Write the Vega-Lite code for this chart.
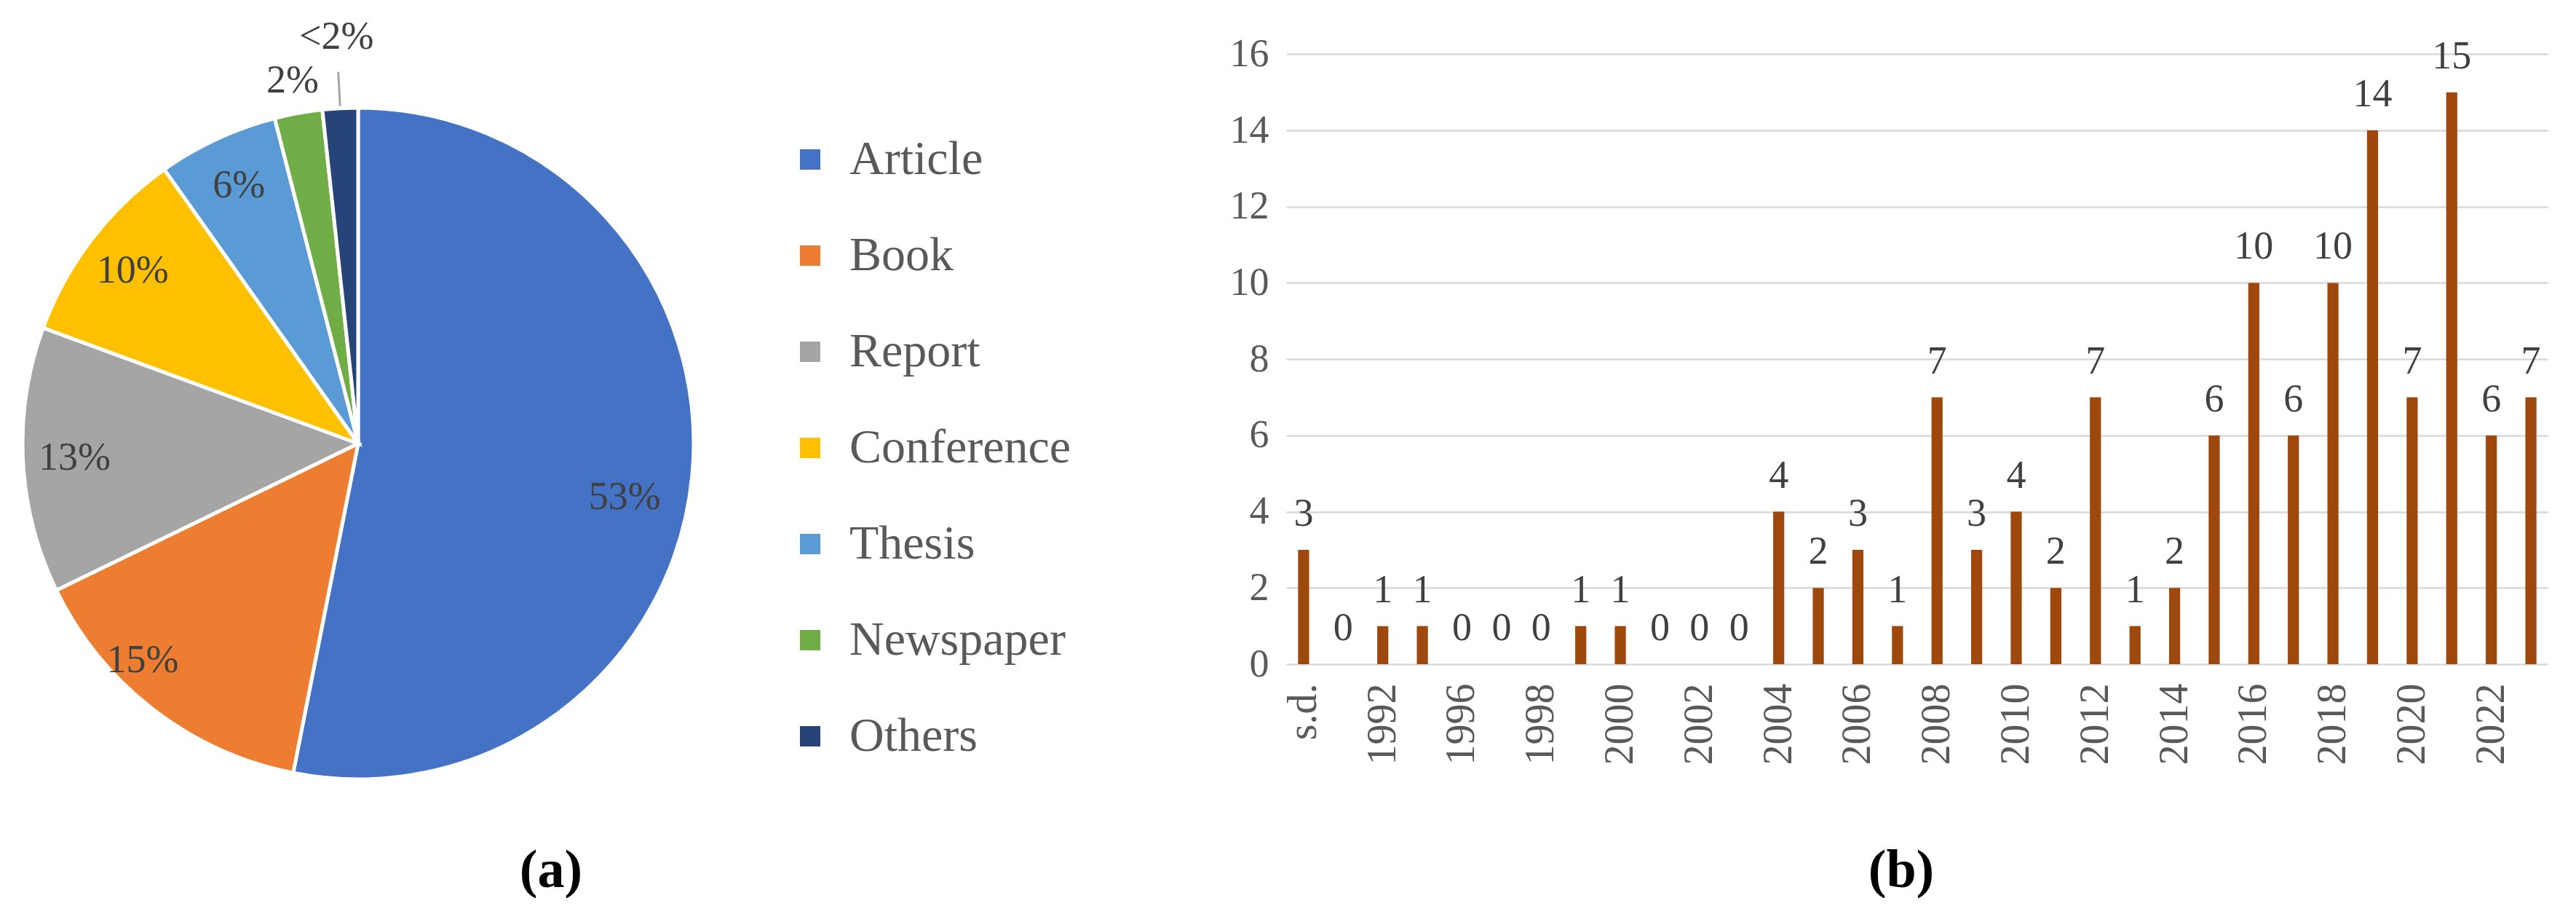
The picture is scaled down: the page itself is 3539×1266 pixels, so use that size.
{
  "$schema": "https://vega.github.io/schema/vega-lite/v6.json",
  "padding": 0,
  "background": "white",
  "bounds": "flush",
  "spacing": 783,
  "config": {
    "view": {"stroke": null},
    "font": "Liberation Serif"
  },
  "datasets": {
    "pie": [
      {"i": 1, "type": "Article", "pct": 53.1, "label": "53%"},
      {"i": 2, "type": "Book", "pct": 14.7, "label": "15%"},
      {"i": 3, "type": "Report", "pct": 12.8, "label": "13%"},
      {"i": 4, "type": "Conference", "pct": 9.6, "label": "10%"},
      {"i": 5, "type": "Thesis", "pct": 5.8, "label": "6%"},
      {"i": 6, "type": "Newspaper", "pct": 2.3, "label": "2%"},
      {"i": 7, "type": "Others", "pct": 1.7, "label": "<2%"}
    ],
    "bars": [
      {"year": "s.d.", "n": 3}, {"year": "1991", "n": 0}, {"year": "1992", "n": 1}, {"year": "1994", "n": 1},
      {"year": "1996", "n": 0}, {"year": "1997", "n": 0}, {"year": "1998", "n": 0}, {"year": "1999", "n": 1},
      {"year": "2000", "n": 1}, {"year": "2001", "n": 0}, {"year": "2002", "n": 0}, {"year": "2003", "n": 0},
      {"year": "2004", "n": 4}, {"year": "2005", "n": 2}, {"year": "2006", "n": 3}, {"year": "2007", "n": 1},
      {"year": "2008", "n": 7}, {"year": "2009", "n": 3}, {"year": "2010", "n": 4}, {"year": "2011", "n": 2},
      {"year": "2012", "n": 7}, {"year": "2013", "n": 1}, {"year": "2014", "n": 2}, {"year": "2015", "n": 6},
      {"year": "2016", "n": 10}, {"year": "2017", "n": 6}, {"year": "2018", "n": 10}, {"year": "2019", "n": 14},
      {"year": "2020", "n": 7}, {"year": "2021", "n": 15}, {"year": "2022", "n": 6}, {"year": "2023", "n": 7}
    ]
  },
  "hconcat": [
    {
      "width": 984,
      "height": 1218,
      "data": {"name": "pie"},
      "title": {"text": "(a)", "orient": "bottom", "frame": "group", "anchor": "middle", "dx": 265, "offset": -58, "fontSize": 74, "fontWeight": "bold", "color": "#000000", "font": "Liberation Serif"},
      "encoding": {
        "theta": {"field": "pct", "type": "quantitative", "stack": true},
        "order": {"field": "i", "type": "quantitative"}
      },
      "layer": [
        {
          "mark": {"type": "arc", "radius": 461, "stroke": "#ffffff", "strokeWidth": 5},
          "encoding": {
            "color": {
              "field": "type", "type": "nominal", "sort": null,
              "scale": {
                "domain": ["Article", "Book", "Report", "Conference", "Thesis", "Newspaper", "Others"],
                "range": ["#4472C4", "#ED7D31", "#A5A5A5", "#FFC000", "#5B9BD5", "#70AD47", "#264478"]
              },
              "legend": {
                "title": null, "orient": "none", "legendX": 1080, "legendY": 186,
                "padding": 0, "symbolType": "square", "symbolSize": 784, "symbolStrokeWidth": 0,
                "labelFontSize": 66, "labelColor": "#595959", "labelFont": "Liberation Serif",
                "labelOffset": 21, "rowPadding": 66, "labelLimit": 600
              }
            }
          }
        },
        {
          "mark": {
            "type": "text", "fontSize": 54, "color": "#404040", "font": "Liberation Serif",
            "radius": {"expr": "datum.type === 'Others' ? 559 : (datum.type === 'Newspaper' ? 506 : 390)"},
            "dx": {"expr": "datum.type === 'Article' ? -22 : (datum.type === 'Book' ? -58 : 0)"},
            "dy": {"expr": "datum.type === 'Article' ? 36 : (datum.type === 'Book' ? -11 : 0)"}
          },
          "encoding": {
            "text": {"field": "label", "type": "nominal"}
          }
        },
        {
          "mark": {
            "type": "arc", "padAngle": 0.4, "filled": false, "stroke": "#A6A6A6", "strokeWidth": 3,
            "radius": {"expr": "datum.type === 'Others' ? 511 : 0"},
            "radius2": {"expr": "datum.type === 'Others' ? 464 : 0"}
          },
          "encoding": {
            "strokeOpacity": {"condition": {"test": "datum.type === 'Others'", "value": 1}, "value": 0}
          }
        }
      ]
    },
    {
      "width": 1734,
      "height": 912,
      "data": {"name": "bars"},
      "title": {"text": "(b)", "orient": "bottom", "frame": "group", "anchor": "middle", "dx": -22, "offset": 110, "fontSize": 74, "fontWeight": "bold", "color": "#000000", "font": "Liberation Serif"},
      "encoding": {
        "x": {
          "field": "year", "type": "ordinal", "sort": null,
          "scale": {"paddingInner": 0.72, "paddingOuter": 0.3},
          "axis": {
            "title": null, "domain": false, "ticks": false, "labelAngle": -90, "labelPadding": 26,
            "labelFontSize": 56, "labelColor": "#595959", "labelFont": "Liberation Serif",
            "values": ["s.d.", "1992", "1996", "1998", "2000", "2002", "2004", "2006", "2008", "2010", "2012", "2014", "2016", "2018", "2020", "2022"]
          }
        },
        "y": {
          "field": "n", "type": "quantitative",
          "scale": {"domain": [0, 17.42], "nice": false},
          "axis": {
            "title": null, "domain": false, "ticks": false, "labelPadding": 24,
            "values": [0, 2, 4, 6, 8, 10, 12, 14, 16],
            "grid": true, "gridColor": "#D9D9D9", "gridWidth": 2.5,
            "labelFontSize": 54, "labelColor": "#595959", "labelFont": "Liberation Serif"
          }
        }
      },
      "layer": [
        {"mark": {"type": "bar", "color": "#9E480E"}},
        {
          "mark": {"type": "text", "baseline": "middle", "dy": -49, "fontSize": 54, "color": "#404040", "font": "Liberation Serif"},
          "encoding": {"text": {"field": "n", "type": "quantitative"}}
        }
      ]
    }
  ]
}
